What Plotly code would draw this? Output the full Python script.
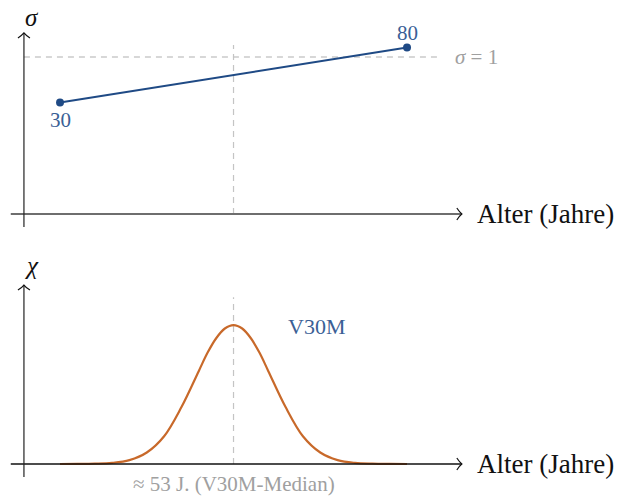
import plotly.graph_objects as go

# ---- data ----
sigma_ages = [30, 80]
sigma_vals = [0.71, 1.06]
sigma_point_labels = ["30", "80"]
sigma_ref = 1.0

chi_ages = [30, 32.5, 35, 37.5, 40, 42.5, 45, 47.5, 50, 51.25, 52.5, 53.75, 55,
            56.25, 57.5, 58.75, 60, 62.5, 65, 67.5, 70, 72.5, 75, 77.5, 80]
chi_vals = [0.0, 0.0003, 0.002, 0.008, 0.028, 0.083, 0.20, 0.41, 0.67, 0.80, 0.905, 0.975, 1.0,
            0.975, 0.905, 0.80, 0.67, 0.41, 0.20, 0.083, 0.028, 0.008, 0.002, 0.0003, 0.0]
median_line_age = 55
median_label = "≈ 53 J. (V30M-Median)"
curve_label = "V30M"
x_title = "Alter (Jahre)"

# ---- styles ----
BLUE = "#1f4a85"
BLUE_TXT = "#3b5f96"
ORANGE = "#c8692a"
GRAY_DASH = "#b0b0b0"
GRAY_TXT = "#a0a0a0"
SERIF = "Liberation Serif, Times New Roman, serif"

X_RANGE = [21.35, 111.41]
Y1_RANGE = [-0.166, 1.363]
Y2_RANGE = [-0.252, 1.612]
AX_X0, AX_X1 = 22.9, 87.9
AX_Y = 24.8

fig = go.Figure()

fig.add_trace(go.Scatter(
    x=sigma_ages, y=sigma_vals, mode="lines+markers",
    line=dict(color=BLUE, width=2), marker=dict(color=BLUE, size=8),
    xaxis="x", yaxis="y", showlegend=False, hoverinfo="skip"))

fig.add_trace(go.Scatter(
    x=chi_ages, y=chi_vals, mode="lines",
    line=dict(color=ORANGE, width=2.2, shape="spline", smoothing=1.0),
    xaxis="x2", yaxis="y2", showlegend=False, hoverinfo="skip"))

shapes = []
# top panel axes
shapes.append(dict(type="line", xref="x", yref="y", x0=AX_X0, x1=AX_X1, y0=0, y1=0,
                   line=dict(color="#6e6e6e", width=2)))
shapes.append(dict(type="line", xref="x", yref="y", x0=AX_Y, x1=AX_Y, y0=-0.083, y1=1.153,
                   line=dict(color="#222222", width=1.2)))
# bottom panel axes
shapes.append(dict(type="line", xref="x2", yref="y2", x0=AX_X0, x1=AX_X1, y0=0, y1=0,
                   line=dict(color="#111111", width=1.3)))
shapes.append(dict(type="line", xref="x2", yref="y2", x0=AX_Y, x1=AX_Y, y0=-0.094, y1=1.288,
                   line=dict(color="#222222", width=1.2)))
# arrow heads
for xr, yr, ytop in (("x", "y", 1.153), ("x2", "y2", 1.288)):
    shapes.append(dict(type="path", xref=xr, yref=yr, xsizemode="pixel", ysizemode="pixel",
                       xanchor=AX_X1, yanchor=0,
                       path="M-5,-6 Q-2,-1.5 0,0 Q-2,1.5 -5,6",
                       line=dict(color="#111111", width=1.2)))
    shapes.append(dict(type="path", xref=xr, yref=yr, xsizemode="pixel", ysizemode="pixel",
                       xanchor=AX_Y, yanchor=ytop,
                       path="M-6,-5 Q-1.5,-2 0,0 Q1.5,-2 6,-5",
                       line=dict(color="#111111", width=1.2)))
# dashed reference lines
shapes.append(dict(type="line", xref="x", yref="y", x0=AX_Y, x1=85.0, y0=sigma_ref, y1=sigma_ref,
                   line=dict(color=GRAY_DASH, width=1.2, dash="6px,5px"), layer="below"))
shapes.append(dict(type="line", xref="x", yref="y", x0=median_line_age, x1=median_line_age,
                   y0=0, y1=1.076, line=dict(color="#c4c4c4", width=1.2, dash="6px,5px"), layer="below"))
shapes.append(dict(type="line", xref="x2", yref="y2", x0=median_line_age, x1=median_line_age,
                   y0=0, y1=1.20, line=dict(color="#c4c4c4", width=1.2, dash="6px,5px"), layer="below"))

ann = []
def A(text, x, y, xr, yr, size, color, xanchor="center", yanchor="middle"):
    ann.append(dict(text=text, x=x, y=y, xref=xr, yref=yr, showarrow=False,
                    xanchor=xanchor, yanchor=yanchor,
                    font=dict(family=SERIF, size=size, color=color)))

A("<i>σ</i>", AX_Y + 1.2, 1.25, "x", "y", 25, "#111111")
A("<i>χ</i>", AX_Y + 1.2, 1.43, "x2", "y2", 25, "#111111")
A(x_title, 89.8, 0, "x", "y", 27, "#111111", xanchor="left")
A(x_title, 89.8, 0, "x2", "y2", 27, "#111111", xanchor="left")
A("<i>σ</i> = 1", 86.6, sigma_ref, "x", "y", 21, GRAY_TXT, xanchor="left")
A(sigma_point_labels[0], sigma_ages[0], sigma_vals[0] - 0.112, "x", "y", 21, BLUE_TXT)
A(sigma_point_labels[1], sigma_ages[1], sigma_vals[1] + 0.095, "x", "y", 21, BLUE_TXT)
A(curve_label, 67.0, 0.99, "x2", "y2", 22, BLUE_TXT)
A(median_label, median_line_age, -0.145, "x2", "y2", 21, GRAY_TXT)

hidden = dict(visible=False, showgrid=False, zeroline=False, fixedrange=True)
fig.update_layout(
    width=625, height=499,
    margin=dict(l=0, r=0, t=0, b=0),
    paper_bgcolor="white", plot_bgcolor="white",
    xaxis=dict(hidden, range=X_RANGE, domain=[0, 1], anchor="y"),
    yaxis=dict(hidden, range=Y1_RANGE, domain=[0.519, 1], anchor="x"),
    xaxis2=dict(hidden, range=X_RANGE, domain=[0, 1], anchor="y2"),
    yaxis2=dict(hidden, range=Y2_RANGE, domain=[0, 0.519], anchor="x2"),
    shapes=shapes, annotations=ann, showlegend=False,
)

fig.write_html("out.html")
